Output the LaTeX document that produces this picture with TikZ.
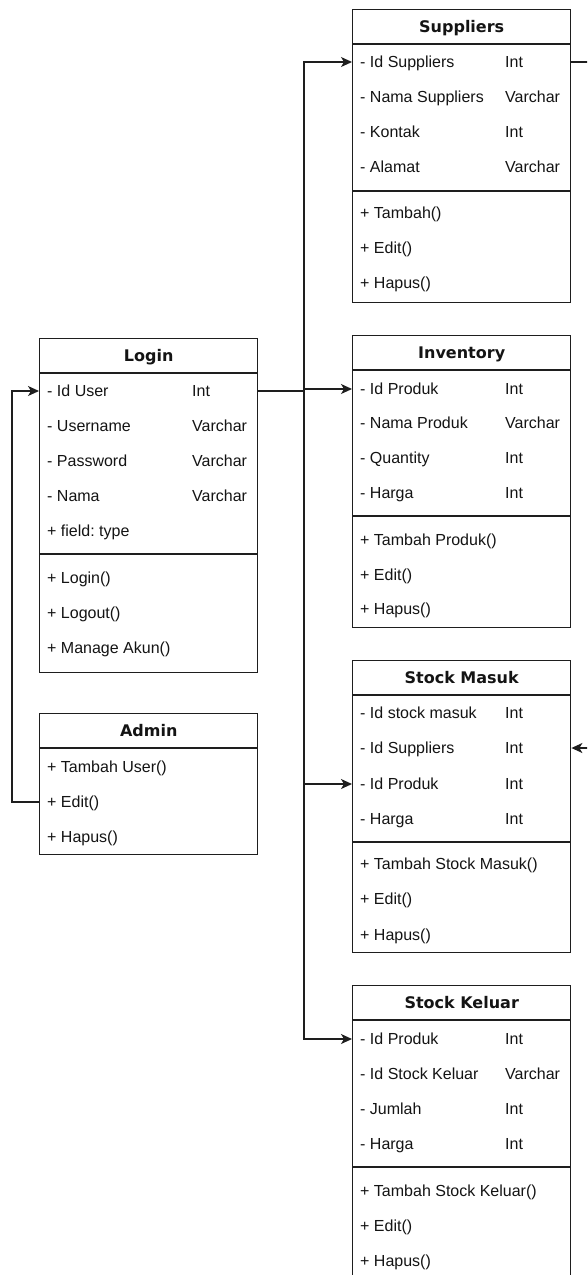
\documentclass[tikz,border=0pt]{standalone}
\usepackage{fontspec}
\setmainfont{Liberation Sans}
\newfontfamily\hdfont{DejaVu Sans}
\usetikzlibrary{arrows.meta,calc}
\frenchspacing
\definecolor{ln}{HTML}{1E1E1E}
\definecolor{tx}{HTML}{141414}
\tikzset{
  box/.style={draw=ln, line width=1.4pt, minimum width=218pt, inner sep=0pt, fill=white},
  sepline/.style={draw=ln, line width=1.4pt},
  ttl/.style={font=\hdfont\bfseries\fontsize{16}{19}\selectfont, text=tx, inner sep=0pt, text height=14.5pt, text depth=2pt},
  rowtext/.style={font=\fontsize{16}{19}\selectfont, text=tx, anchor=west, inner sep=0pt, text height=13.5pt, text depth=2pt},
  conn/.style={draw=ln, line width=1.4pt},
  arr/.style={conn, -{Stealth[length=11pt,width=10pt,inset=3pt]}},
}
% #1 name, #2 left, #3 top, #4 bottom, #5 separator y (0 = none), #6 title
\newcommand\umlbox[6]{%
  \node[box, minimum height={#4-#3}, anchor=north west] (#1) at (#2,#3) {};
  \draw[sepline] ($(#1.north west)+(0,35)$) -- ($(#1.north east)+(0,35)$);
  \node[ttl] (#1h) at ($(#1.north)+(0,17.5)$) {#6};
  \ifnum#5>0 \draw[sepline] (#2,#5) -- (#2+218,#5);\fi
}
\newcommand\rw[5]{%
  \node[rowtext] (#1) at (#2+8,#3) {#4};
  \node[rowtext] (#1t) at (#2+153,#3) {#5};
}
\newcommand\mt[4]{\node[rowtext] (#1) at (#2+8,#3) {#4};}
\begin{document}
\begin{tikzpicture}[x=1pt,y=-1pt]
\useasboundingbox (0,0) rectangle (587,1275);
\clip (0,0) rectangle (587,1275);
\fill[white] (0,0) rectangle (587,1275);

% Login
\umlbox{login}{39}{338}{672}{554}{Login}
\rw{l1}{39}{391}{- Id User}{Int}
\rw{l2}{39}{426}{- Username}{Varchar}
\rw{l3}{39}{461}{- Password}{Varchar}
\rw{l4}{39}{496}{- Nama}{Varchar}
\mt{l5}{39}{531}{+ field: type}
\mt{lm1}{39}{578}{+ Login()}
\mt{lm2}{39}{613}{+ Logout()}
\mt{lm3}{39}{648}{+ Manage Akun()}

% Admin
\umlbox{admin}{39}{713}{854}{0}{Admin}
\mt{am1}{39}{767}{+ Tambah User()}
\mt{am2}{39}{802}{+ Edit()}
\mt{am3}{39}{837}{+ Hapus()}

% Suppliers
\umlbox{sup}{352}{9}{302}{191}{Suppliers}
\rw{s1}{352}{62}{- Id Suppliers}{Int}
\rw{s2}{352}{97}{- Nama Suppliers}{Varchar}
\rw{s3}{352}{132}{- Kontak}{Int}
\rw{s4}{352}{167}{- Alamat}{Varchar}
\mt{sm1}{352}{213}{+ Tambah()}
\mt{sm2}{352}{248}{+ Edit()}
\mt{sm3}{352}{283}{+ Hapus()}

% Inventory
\umlbox{inv}{352}{335}{627}{516}{Inventory}
\rw{i1}{352}{389}{- Id Produk}{Int}
\rw{i2}{352}{423}{- Nama Produk}{Varchar}
\rw{i3}{352}{458}{- Quantity}{Int}
\rw{i4}{352}{493}{- Harga}{Int}
\mt{im1}{352}{540}{+ Tambah Produk()}
\mt{im2}{352}{575}{+ Edit()}
\mt{im3}{352}{609}{+ Hapus()}

% Stock Masuk
\umlbox{sm}{352}{660}{952}{842}{Stock Masuk}
\rw{m1}{352}{713}{- Id stock masuk}{Int}
\rw{m2}{352}{748}{- Id Suppliers}{Int}
\rw{m3}{352}{784}{- Id Produk}{Int}
\rw{m4}{352}{819}{- Harga}{Int}
\mt{mm1}{352}{864}{+ Tambah Stock Masuk()}
\mt{mm2}{352}{899}{+ Edit()}
\mt{mm3}{352}{935}{+ Hapus()}

% Stock Keluar
\umlbox{sk}{352}{985}{1290}{1167}{Stock Keluar}
\rw{k1}{352}{1039}{- Id Produk}{Int}
\rw{k2}{352}{1074}{- Id Stock Keluar}{Varchar}
\rw{k3}{352}{1109}{- Jumlah}{Int}
\rw{k4}{352}{1144}{- Harga}{Int}
\mt{km1}{352}{1191}{+ Tambah Stock Keluar()}
\mt{km2}{352}{1226}{+ Edit()}
\mt{km3}{352}{1261}{+ Hapus()}

% connectors
\coordinate (trunk) at (304,391);
\draw[conn] (login.east |- l1) -- (trunk);
\draw[arr] (trunk) |- (sup.west |- s1);
\draw[arr] (trunk) |- (inv.west |- i1);
\draw[arr] (trunk) |- (sm.west |- m3);
\draw[arr] (trunk) |- (sk.west |- k1);
\coordinate (adm) at (12,802);
\draw[arr] (admin.west |- am2) -- (adm) |- (login.west |- l1);
\coordinate (rside) at (600,62);
\draw[arr] (sup.east |- s1) -- (rside) |- (sm.east |- m2);
\end{tikzpicture}
\end{document}
